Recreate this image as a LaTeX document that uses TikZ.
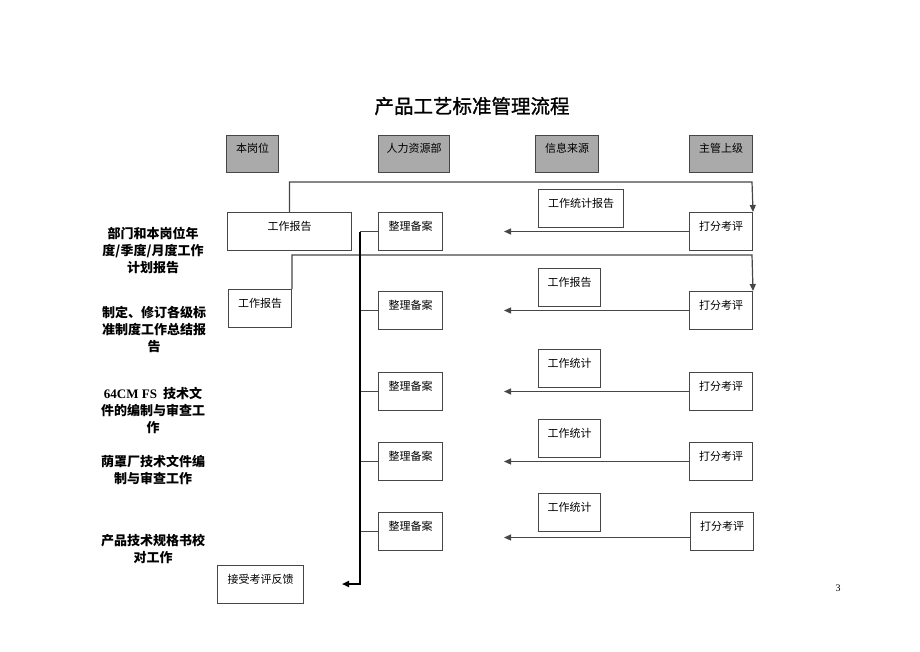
\documentclass[tikz,border=0pt]{standalone}
\usepackage{fontspec}
\setmainfont{Liberation Serif}
\newfontfamily\cjk{Noto Sans CJK SC}
\newfontfamily\cjktitle[FakeBold=1.2]{Noto Sans CJK SC}
\usetikzlibrary{arrows.meta}
\definecolor{headfill}{RGB}{170,170,170}
\definecolor{edgegray}{RGB}{70,70,70}

\begin{document}
\begin{tikzpicture}[x=1pt,y=-1pt,
    box/.style={draw=edgegray,line width=1pt,anchor=north west,inner sep=0pt,
      text height=18pt,text depth=20pt,font=\cjk\fontsize{11}{13}\selectfont},
    head/.style={box,fill=headfill,text height=17pt,text depth=20pt},
    lab/.style={align=center,font=\cjk\bfseries\fontsize{13}{17}\selectfont},
    flow/.style={draw=edgegray,line width=1.2pt,-{Triangle[length=7pt,width=6pt]}},
    branch/.style={draw=edgegray,line width=1pt},
    busline/.style={draw=black,line width=1.8pt,-{Triangle[length=7pt,width=6pt]}}]

  \useasboundingbox (0,0) rectangle (920,651);

  \node[font=\cjktitle\fontsize{19.5}{22}\selectfont] (title) at (472,106) {产品工艺标准管理流程};

  % column heads
  \begin{scope}[every node/.style={head}]
    \node[minimum width=52pt] (colpos)  at (226,135) {本岗位};
    \node[minimum width=71pt] (colhr)   at (378,135) {人力资源部};
    \node[minimum width=63pt] (colinfo) at (535,135) {信息来源};
    \node[minimum width=63pt] (colboss) at (689,135) {主管上级};
  \end{scope}

  % row labels
  \begin{scope}[every node/.style={lab}]
    \node (lab1) at (153,250) {部门和本岗位年\\度/季度/月度工作\\计划报告};
    \node (lab2) at (154,329) {制定、修订各级标\\准制度工作总结报\\告};
    \node (lab3) at (153,410) {{\rmfamily\bfseries 64CM FS}\ \ 技术文\\件的编制与审查工\\作};
    \node (lab4) at (153,470) {荫罩厂技术文件编\\制与审查工作};
    \node (lab5) at (153,549) {产品技术规格书校\\对工作};
  \end{scope}

  \begin{scope}[every node/.style={box}]
    \node[minimum width=124pt] (rep1) at (227,212) {工作报告};
    \node[minimum width=63pt]  (rep2) at (228,289) {工作报告};
    \node[minimum width=86pt]  (fb)   at (217,565) {接受考评反馈};

    \node[minimum width=64pt] (arc1) at (378,212) {整理备案};
    \node[minimum width=64pt] (arc2) at (378,291) {整理备案};
    \node[minimum width=64pt] (arc3) at (378,372) {整理备案};
    \node[minimum width=64pt] (arc4) at (378,442) {整理备案};
    \node[minimum width=64pt] (arc5) at (378,512) {整理备案};

    \node[minimum width=85pt] (src1) at (538,189) {工作统计报告};
    \node[minimum width=62pt] (src2) at (538,268) {工作报告};
    \node[minimum width=62pt] (src3) at (538,349) {工作统计};
    \node[minimum width=62pt] (src4) at (538,419) {工作统计};
    \node[minimum width=62pt] (src5) at (538,493) {工作统计};

    \node[minimum width=63pt] (sc1) at (689,212) {打分考评};
    \node[minimum width=63pt] (sc2) at (689,291) {打分考评};
    \node[minimum width=63pt] (sc3) at (689,372) {打分考评};
    \node[minimum width=63pt] (sc4) at (689,442) {打分考评};
    \node[minimum width=63pt] (sc5) at (690,512) {打分考评};
  \end{scope}

  \coordinate (top1) at (752,182);
  \coordinate (top2) at (752,255);
  \coordinate (back) at (504,0);
  \coordinate (bus)  at (360,584);
  \coordinate (fbin) at (342,584);

  \draw[flow] (rep1.north) |- (top1) -- (sc1.north east);
  \draw[flow] (rep2.north east) |- (top2) -- (sc2.north east);

  \foreach \n in {1,...,4}
    \draw[flow] (sc\n.west) -- (sc\n.west -| back);
  \draw[flow] ([yshift=-6pt]sc5.west) -- ([yshift=-6pt]sc5.west -| back);

  \foreach \n in {1,...,5}
    \draw[branch] (arc\n.west) -- (arc\n.west -| bus);
  \draw[busline] (arc1.west -| bus) -- (bus) -- (fbin);

  \node[font=\fontsize{10}{12}\selectfont] (pageno) at (838,588) {3};

\end{tikzpicture}
\end{document}
